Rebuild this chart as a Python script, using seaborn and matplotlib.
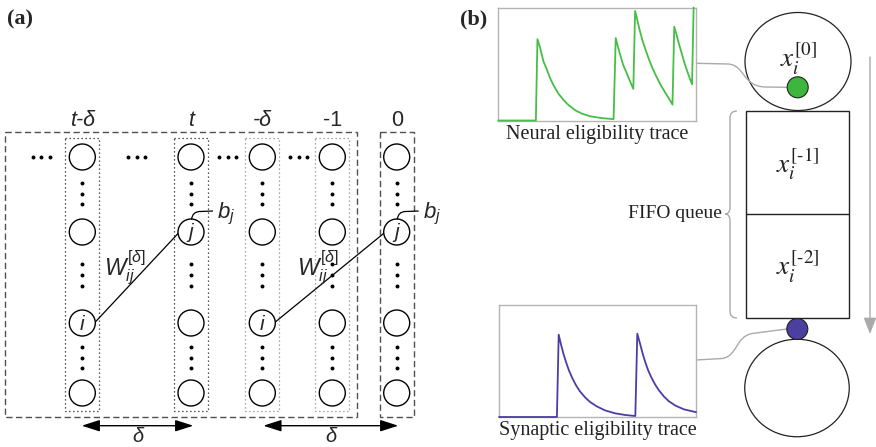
import matplotlib
matplotlib.use("Agg")
import matplotlib.pyplot as plt
import seaborn as sns
from matplotlib.patches import Circle, Ellipse, Rectangle, PathPatch
from matplotlib.path import Path

# ---- values ----
# neural eligibility trace: time in % of window, value as fraction of box height
neural_t = [0, 19.0, 19.8, 21.2, 22.9, 24.6, 26.3, 28.0, 30.5, 33.1, 35.6, 39.0,
            42.4, 46.6, 52.5, 58.3,
            59.4, 60.7, 61.9, 63.2, 64.6, 66.1, 67.3, 68.3,
            69.2, 70.3, 71.5, 72.9, 74.6, 76.3, 78.0, 79.7, 81.4, 83.1, 84.7, 86.4, 88.1,
            89.0, 90.3, 91.5, 92.9, 94.2, 95.6, 96.8, 98.0, 98.8]
neural_v = [0, 0, 0.72, 0.64, 0.52, 0.45, 0.37, 0.31, 0.235, 0.18, 0.135, 0.09,
            0.06, 0.037, 0.021, 0.012,
            0.73, 0.64, 0.566, 0.49, 0.434, 0.369, 0.32, 0.28,
            0.97, 0.89, 0.80, 0.71, 0.62, 0.537, 0.463, 0.398, 0.339, 0.286, 0.239,
            0.192, 0.14,
            0.83, 0.75, 0.67, 0.587, 0.507, 0.434, 0.375, 0.32, 1.0]

# synaptic eligibility trace
syn_t = [0, 29.4, 30.3, 31.5, 32.7, 34.0, 35.5, 37.2, 39.1, 41.1, 43.7, 46.2, 49.6,
         53.8, 58.9, 64.0, 69.2,
         70.2, 71.6, 72.8, 74.1, 75.6, 77.3, 79.2, 81.2, 83.8, 86.3, 89.7, 93.9, 100]
syn_v = [0, 0, 0.733, 0.644, 0.564, 0.49, 0.415, 0.347, 0.282, 0.228, 0.175, 0.134,
         0.095, 0.059, 0.033, 0.018, 0.009,
         0.742, 0.653, 0.573, 0.496, 0.421, 0.353, 0.291, 0.237, 0.181, 0.139, 0.10,
         0.068, 0.043]

col_labels = ["t-δ", "t", "-δ", "-1", "0"]
col_italic = [True, True, True, False, False]
queue_labels = [r"$x_i^{[0]}$", r"$x_i^{[\text{-}1]}$", r"$x_i^{[\text{-}2]}$"]
trace_titles = ["Neural eligibility trace", "Synaptic eligibility trace"]

# ---- style ----
sns.set_theme(style="white")
plt.rcParams["font.family"] = ["Liberation Sans", "DejaVu Sans"]
plt.rcParams["mathtext.fontset"] = "custom"
plt.rcParams["mathtext.it"] = "Liberation Sans:italic"
plt.rcParams["mathtext.rm"] = "Liberation Sans"

W, H = 876, 447
green_line, green_dot = "#46bf46", "#3cb63c"
blue_line, blue_dot = "#4a3ea6", "#4b3f9f"
grey = "#aaaaaa"
ink = "#222222"
serif = ["Liberation Serif", "DejaVu Serif"]

fig = plt.figure(figsize=(W / 100, H / 100), dpi=100)
ax = fig.add_axes([0, 0, 1, 1])
ax.set_xlim(0, W)
ax.set_ylim(H, 0)
ax.axis("off")

# ================= panel (a) =================
ax.text(7, 19, "(a)", fontsize=16, fontweight="bold", family=serif, va="center")

col_x = [82.3, 191, 262.3, 332.3, 396.7]
row_y = [157, 232, 323, 393]
r = 13

# outer dashed boxes
ax.add_patch(Rectangle((5, 132.3), 351.7, 285, fill=False, ec="#505050", lw=1,
                       ls=(0, (4.5, 2.5))))
ax.add_patch(Rectangle((380, 132.3), 34.3, 285, fill=False, ec="#505050", lw=1,
                       ls=(0, (4.5, 2.5))))
# dotted column boxes
for k, cx in enumerate(col_x[:4]):
    c = "#222222" if k < 2 else "#888888"
    ax.add_patch(Rectangle((cx - 17, 137.7), 34, 273, fill=False, ec=c, lw=0.9,
                           ls=(0, (1, 2.2))))

# neurons
for k, cx in enumerate(col_x):
    for y in row_y:
        ax.add_patch(Circle((cx, y), r, fc="white", ec="black", lw=1, zorder=3))
    ax.text(cx, 121, col_labels[k], fontsize=15.5, ha="center", va="center",
            style="italic" if col_italic[k] else "normal")

# vertical ellipses
dot_x, dot_y = [], []
for cx in col_x:
    for y in [183, 193.5, 204, 264, 275, 286, 347, 357.5, 368]:
        dot_x.append(cx)
        dot_y.append(y)
# horizontal ellipses
for hx in [41, 136.5, 227.5, 298.5]:
    for d in (-8.5, 0, 8.5):
        dot_x.append(hx + d)
        dot_y.append(157)
sns.scatterplot(x=dot_x, y=dot_y, ax=ax, s=8, color="black", linewidth=0, zorder=4)

# i / j labels and connections
for ci, cj in [(0, 1), (2, 4)]:
    xi, xj = col_x[ci], col_x[cj]
    ax.text(xi, row_y[2] + 1, "i", style="italic", fontsize=15, ha="center",
            va="center", zorder=5)
    ax.text(xj, row_y[1] + 1, "j", style="italic", fontsize=15, ha="center",
            va="center", zorder=5)
    ax.plot([xi + r, xj - r + 0.5], [row_y[2] - 1, row_y[1] + 1], color="black",
            lw=0.9, zorder=2)
    ax.text((xi + r + xj - r) / 2 - 12, 268, r"$W_{ij}^{[\delta]}$", fontsize=16.5,
            ha="center", va="center")
    # bias hook
    hook = Path([(xj + 0.5, row_y[1] - 12.5), (xj + 1.5, row_y[1] - 20.5),
                 (xj + 9, row_y[1] - 20.5), (xj + 22, row_y[1] - 21)],
                [Path.MOVETO, Path.CURVE3, Path.CURVE3, Path.LINETO])
    ax.add_patch(PathPatch(hook, fill=False, ec="black", lw=0.9, zorder=4))
    ax.text(xj + 26, row_y[1] - 18, r"$b_j$", fontsize=16, ha="left", va="center")

# delta arrows
for x0, x1 in [(81.7, 193.3), (263.3, 398.3)]:
    ax.annotate("", xy=(x1, 425.7), xytext=(x0, 425.7),
                arrowprops=dict(arrowstyle="<|-|>,head_length=1.0,head_width=0.32",
                                color="black", lw=1, shrinkA=0, shrinkB=0,
                                mutation_scale=11))
    ax.text((x0 + x1) / 2, 442, "δ", style="italic", fontsize=14.5, ha="center",
            va="baseline")

# ================= panel (b) =================
ax.text(460, 19, "(b)", fontsize=16, fontweight="bold", family=serif, va="center")

boxes = [(498.3, 7.5, 696, 120.5), (499, 304.7, 696, 417)]
traces = [(neural_t, neural_v, green_line), (syn_t, syn_v, blue_line)]
for (x0, y0, x1, y1), (tt, vv, col), title in zip(boxes, traces, trace_titles):
    tax = fig.add_axes([x0 / W, 1 - y1 / H, (x1 - x0) / W, (y1 - y0) / H])
    sns.lineplot(x=tt, y=vv, ax=tax, color=col, lw=1.3, estimator=None, sort=False,
                 clip_on=False, zorder=3)
    tax.set_xlim(0, 100)
    tax.set_ylim(0, 1)
    tax.set(xticks=[], yticks=[], xlabel="", ylabel="")
    for s in tax.spines.values():
        s.set_color("#b4b4b4")
        s.set_linewidth(1)
    ax.text((x0 + x1) / 2, y1 + 14, title, family=serif, fontsize=14.5,
            ha="center", va="center", color=ink)

# neuron circles and queue
ax.add_patch(Ellipse((798, 61.5), 106, 98, fc="white", ec=ink, lw=0.9))
ax.add_patch(Ellipse((797, 388), 104.5, 97.5, fc="white", ec=ink, lw=0.9))
ax.add_patch(Rectangle((746, 110.7), 103.3, 207.6, fc="white", ec=ink, lw=1))
ax.plot([746, 849.3], [214.3, 214.3], color=ink, lw=1)
for (xc, yc), lab in zip([(799, 59), (798, 163.5), (798, 267)], queue_labels):
    ax.text(xc, yc, lab, fontsize=19.5, math_fontfamily="stix", ha="center",
            va="center", color=ink)

# connectors from traces to dots
p1 = Path([(696, 63.3), (728, 64), (745, 65), (742, 86), (765, 87), (787, 87.3)],
          [Path.MOVETO, Path.LINETO, Path.CURVE4, Path.CURVE4, Path.CURVE4, Path.LINETO])
p2 = Path([(696, 360), (722, 358.5), (738, 356), (735, 337), (752, 333.5), (787, 329)],
          [Path.MOVETO, Path.LINETO, Path.CURVE4, Path.CURVE4, Path.CURVE4, Path.LINETO])
for p in (p1, p2):
    ax.add_patch(PathPatch(p, fill=False, ec=grey, lw=1))
ax.add_patch(Circle((797.7, 87.3), 10.5, fc=green_dot, ec=ink, lw=0.8, zorder=5))
ax.add_patch(Circle((797.3, 329), 10.5, fc=blue_dot, ec=ink, lw=0.8, zorder=5))

# FIFO brace
brace = Path([(737, 111), (730, 111), (730, 118), (730, 207), (730, 214), (725, 214),
              (730, 214), (730, 221), (730, 311), (730, 318), (737, 318)],
             [Path.MOVETO, Path.CURVE3, Path.CURVE3, Path.LINETO, Path.CURVE3,
              Path.CURVE3, Path.CURVE3, Path.CURVE3, Path.LINETO, Path.CURVE3,
              Path.CURVE3])
ax.add_patch(PathPatch(brace, fill=False, ec=grey, lw=1))
ax.text(722, 214, "FIFO queue", family=serif, fontsize=14, ha="right", va="center",
        color=ink)

# time arrow on the right
ax.annotate("", xy=(870, 334), xytext=(870, 57),
            arrowprops=dict(arrowstyle="-|>,head_length=0.9,head_width=0.35",
                            color=grey, lw=1, shrinkA=0, shrinkB=0, mutation_scale=11))

fig.savefig("out.png", dpi=100)
